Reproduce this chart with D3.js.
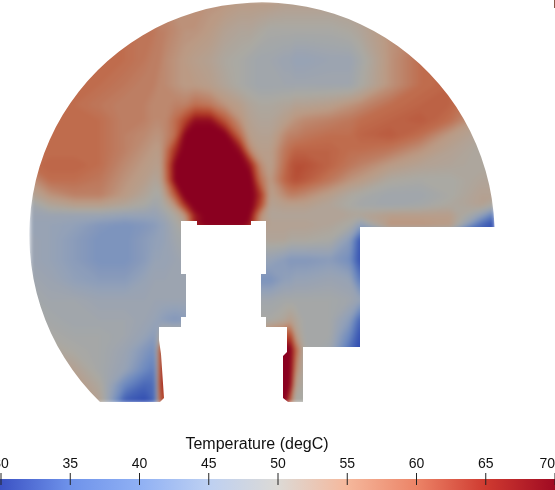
<!DOCTYPE html>
<html>
<head>
<meta charset="utf-8">
<script src="https://cdn.jsdelivr.net/npm/d3@7"></script>
<style>
  html, body { margin: 0; padding: 0; background: #fff; overflow: hidden; }
  text { font-family: "Liberation Sans", Arial, sans-serif; fill: #111; }
</style>
</head>
<body>
<div id="chart"></div>
<script>
// model coordinates, origin at the centre of the circular section
const gridX = [-232, -212, -187, -162, -137, -117, -107, -102, -97, -87, -77, -67, -52, -37, -22, -12, -2, 8, 23, 28, 33, 43, 68, 88, 98, 128, 158, 188, 218, 233];
const gridY = [-235, -205, -175, -150, -130, -115, -100, -85, -70, -55, -40, -30, -20, -10, 5, 25, 45, 65, 85, 100, 115, 135, 150, 168];

// temperature, one row per gridY (saturated core can pass 70)
const temperature = [
  [58,58,58,58,58,57,57,57,57,56,56,56,56,56,55,55,55,55,54,54,54,54,54,54,54,55,56,57,57,57],
  [60,60,60,60,60,59,59,58,58,57,56,56,55,53,52,52,51,50,50,50,50,50,50,51,52,56,58,58,58,58],
  [60,60,60,60,60,59,58,58,57,56,55,54,53,51,50,49,48,48,47,47,46,46,47,47,49,56,60,61,61,61],
  [60,60,60,60,59,58,58,57,57,56,55,55,54,52,50,49,48,48,48,48,48,48,48,48,50,56,60,61,60,60],
  [60,60,60,59,58,58,57,57,57,58,58,60,59,56,54,52,51,51,52,52,53,53,54,56,57,60,61,61,57,57],
  [60,60,60,60,58,58,57,57,57,60,64,69,69,62,56,53,52,52,54,55,56,57,58,59,60,61,62,60,54,54],
  [60,60,60,60,58,57,56,56,57,60,70,72,72,71,60,54,53,53,57,58,58,59,60,60,61,62,60,55,52,52],
  [60,60,60,60,58,56,55,55,58,66,72,72,72,72,69,57,54,54,59,60,61,61,61,60,60,59,56,53,51,51],
  [60,61,61,60,57,55,54,54,59,70,72,72,72,72,72,68,57,54,60,62,63,63,61,59,58,55,53,52,51,51],
  [56,60,60,59,56,54,52,53,58,70,72,72,72,72,72,72,60,55,61,62,63,62,59,56,55,51,50,50,52,52],
  [52,56,58,58,55,52,50,50,54,62,72,72,72,72,72,72,66,54,57,58,58,57,54,51,50,48,48,50,53,53],
  [48,52,54,54,52,50,48,49,51,56,66,72,72,72,72,72,64,53,54,54,54,54,52,50,49,48,49,51,53,50],
  [47,47,47,47,46,46,46,47,48,51,56,68,72,72,72,70,57,52,52,52,52,52,52,52,52,54,54,54,46,38],
  [46,46,45,43,42,43,44,45,46,49,52,68,72,72,72,68,55,53,53,53,53,53,52,50,45,56,56,55,36,31],
  [47,46,44,42,42,44,45,45,46,48,49,49,50,50,50,50,51,52,52,51,51,51,50,44,33,33,33,33,33,33],
  [47,46,44,42,42,44,46,46,46,47,48,48,48,48,48,47,46,46,44,43,43,43,44,41,32,32,32,32,32,32],
  [48,47,45,44,44,46,47,47,47,47,47,47,47,46,45,44,42,42,45,45,46,46,47,46,38,38,38,38,38,38],
  [49,48,48,47,47,47,47,47,47,47,47,47,48,48,48,48,48,48,49,49,49,49,49,48,46,46,46,46,46,46],
  [49,49,48,48,48,47,46,45,44,43,44,46,48,49,49,49,50,50,52,54,52,49,49,44,35,35,35,35,35,35],
  [50,50,49,49,48,46,44,50,52,52,52,52,52,52,52,54,56,60,62,64,55,49,49,40,32,32,32,32,32,32],
  [53,52,50,49,47,43,41,62,66,66,66,66,66,66,66,66,66,68,72,72,62,50,48,36,31,31,31,31,31,31],
  [55,55,53,49,46,40,38,63,67,67,67,67,67,67,67,67,67,68,72,72,58,50,48,35,31,31,31,31,31,31],
  [56,56,55,51,40,35,36,64,67,67,67,67,67,67,67,67,67,68,72,70,54,50,48,35,31,31,31,31,31,31],
  [56,56,55,53,33,31,35,62,64,64,64,64,64,64,64,64,64,66,70,60,50,50,48,35,31,31,31,31,31,31]
];

// section outline: arc ends, then the straight edges from right end back to the left end
const arcStart = [-162, 167];
const arcEnd = [231, -8];
const outline = [
  [98, -8], [98, 112], [41, 112], [41, 167], [26, 167], [21, 163], [21, 121], [25, 117], [25, 92],
  [4, 92], [4, 82], [-1, 82], [-1, 39], [4, 39], [4, -14], [-11, -14], [-11, -10], [-65, -10], [-65, -14],
  [-81, -14], [-81, 39], [-76, 39], [-76, 82], [-81, 82], [-81, 92], [-103, 92], [-103, 105], [-101, 119],
  [-98, 163], [-102, 167]
];

// colour legend
const tickValues = [30, 35, 40, 45, 50, 55, 60, 65, 70];
const barColors = ["#3b52c4", "#6e92ea", "#8fb0f4", "#bdd0f2", "#dcdad6", "#f5b89c", "#ec8467", "#cf3a30", "#a00a22"];
const fieldColors = ["#2a45b0", "#4a68b8", "#6f8bc0", "#93a1b8", "#aaa9a3", "#bb9a84", "#bf6c4d", "#b03a25", "#8a0020"];
const legendTitle = "Temperature (degC)";

const width = 555, height = 490;

const svg = d3.select("#chart").append("svg")
  .attr("width", width)
  .attr("height", height)
  .style("display", "block");

const root = svg.append("g").style("filter", "blur(0.4px)");

const x = d3.scaleLinear().domain([-232, 232]).range([30, 494]);
const y = d3.scaleLinear().domain([-232, 168]).range([3, 403]);

// grid index -> model coordinate (grid is not evenly spaced)
const colX = d3.scaleLinear().domain(d3.range(gridX.length)).range(gridX).clamp(true);
const rowY = d3.scaleLinear().domain(d3.range(gridY.length)).range(gridY).clamp(true);

const fieldColor = d3.scaleLinear().domain(tickValues).range(fieldColors).clamp(true);

// clip to the section outline
const clipPath = d3.path();
const r = x(Math.hypot(arcStart[0], arcStart[1])) - x(0);
clipPath.arc(x(0), y(0), r,
  Math.atan2(arcStart[1], arcStart[0]),
  Math.atan2(arcEnd[1], arcEnd[0]) + 2 * Math.PI);
outline.forEach(function (p) {
  clipPath.lineTo(x(p[0]), y(p[1]));
});
clipPath.closePath();

svg.append("defs").append("clipPath").attr("id", "section")
  .append("path").attr("d", clipPath.toString());

const field = root.append("g").attr("clip-path", "url(#section)")
  .append("g").style("filter", "blur(2px)");

const contours = d3.contours()
  .size([gridX.length, gridY.length])
  .thresholds(d3.range(30, 70.5, 0.5))(temperature.flat());

const toScreen = d3.geoTransform({
  point: function (px, py) {
    this.stream.point(x(colX(px - 0.5)), y(rowY(py - 0.5)));
  },
});

field.selectAll("path")
  .data(contours)
  .join("path")
  .attr("d", d3.geoPath(toScreen))
  .attr("fill", function (d) { return fieldColor(d.value); });

// colour bar
const legendX = d3.scaleLinear().domain([30, 70]).range([0, 554]);
const barColor = d3.scaleLinear().domain(tickValues).range(barColors);

const gradient = svg.select("defs").append("linearGradient").attr("id", "bar");
gradient.selectAll("stop")
  .data(tickValues)
  .join("stop")
  .attr("offset", function (d) { return (d - 30) / 40; })
  .attr("stop-color", function (d) { return barColor(d); });

root.append("rect")
  .attr("x", legendX(30))
  .attr("y", 479)
  .attr("width", legendX(70) - legendX(30) + 1)
  .attr("height", 11)
  .attr("fill", "url(#bar)");

const axis = root.append("g")
  .attr("transform", "translate(0.5,485)")
  .call(d3.axisTop(legendX).tickValues(tickValues).tickSize(12).tickPadding(5).tickFormat(d3.format("d")));

axis.select(".domain").remove();
axis.selectAll("line").attr("stroke", "#222");
axis.selectAll("text")
  .style("font-size", "14px")
  .attr("text-anchor", function (d) { return d === 70 ? "end" : "middle"; });

root.append("text")
  .attr("x", 257)
  .attr("y", 449)
  .attr("text-anchor", "middle")
  .style("font-size", "16px")
  .text(legendTitle);

// stray edge of the screenshot, top right corner
svg.append("line")
  .attr("x1", 554.5).attr("x2", 554.5)
  .attr("y1", 0).attr("y2", 8)
  .attr("stroke", "#8a5a4a");
</script>
</body>
</html>
